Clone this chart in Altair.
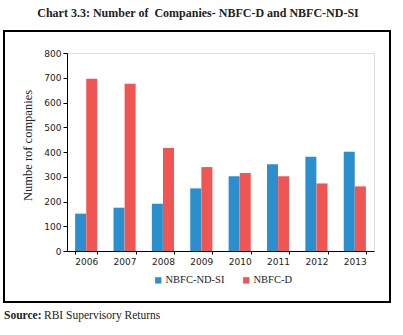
import altair as alt
import pandas as pd

years = ["2006", "2007", "2008", "2009", "2010", "2011", "2012", "2013"]
nd_si = [151, 175, 191, 253, 302, 351, 381, 401]
nbfc_d = [696, 676, 416, 339, 315, 302, 273, 261]
series = ["NBFC-ND-SI", "NBFC-D"]
colors = ["#2B8FCD", "#EF5552"]

rows = []
for y, a, b in zip(years, nd_si, nbfc_d):
    rows.append({"year": y, "series": series[0], "value": a})
    rows.append({"year": y, "series": series[1], "value": b})
df = pd.DataFrame(rows)

W, H = 307, 198

bars = alt.Chart(df).mark_bar(size=11).encode(
    x=alt.X("year:N", title=None, sort=years,
            scale=alt.Scale(paddingInner=0.42, paddingOuter=0.21),
            axis=alt.Axis(labelAngle=0, tickBand="extent", domainColor="black",
                          tickColor="black", tickSize=3, labelFont="DejaVu Sans",
                          labelFontSize=9, labelColor="#222", labelPadding=3)),
    xOffset=alt.XOffset("series:N", sort=series),
    y=alt.Y("value:Q", title="Numbe rof companies",
            scale=alt.Scale(domain=[0, 800]),
            axis=alt.Axis(values=list(range(0, 801, 100)), grid=False,
                          domainColor="black", tickColor="black", tickSize=4,
                          labelFont="DejaVu Sans", labelFontSize=9, labelColor="#222",
                          titleFont="Liberation Serif", titleFontSize=12.5, titleY=92,
                          titleFontWeight="normal", titleColor="#222", titlePadding=9)),
    color=alt.Color("series:N", sort=series,
                    scale=alt.Scale(domain=series, range=colors),
                    legend=alt.Legend(title=None, orient="none", direction="horizontal",
                                      legendX=86, legendY=222, symbolType="square",
                                      symbolSize=40, symbolStrokeWidth=0, labelOffset=2,
                                      labelFont="Liberation Serif", labelFontSize=10.5,
                                      labelColor="#222", columnPadding=16)),
)

frame = alt.Chart(pd.DataFrame({"a": [0]})).mark_rect(
    fill=None, stroke="black", strokeWidth=2
).encode(x=alt.value(-63), x2=alt.value(323), y=alt.value(-22), y2=alt.value(249))

title = alt.Chart(pd.DataFrame({"t": ["Chart 3.3: Number of\u00a0 Companies- NBFC-D and NBFC-ND-SI"]})).mark_text(
    font="Liberation Serif", fontSize=12, fontWeight="bold", color="#222", align="center", baseline="middle"
).encode(text="t:N", x=alt.value(131), y=alt.value(-40))

src_b = alt.Chart(pd.DataFrame({"t": ["Source:"]})).mark_text(
    font="Liberation Serif", fontSize=11.5, fontWeight="bold", color="#222", align="left", baseline="middle"
).encode(text="t:N", x=alt.value(-63), y=alt.value(263))
src = alt.Chart(pd.DataFrame({"t": ["RBI Supervisory Returns"]})).mark_text(
    font="Liberation Serif", fontSize=11.5, color="#222", align="left", baseline="middle"
).encode(text="t:N", x=alt.value(-23), y=alt.value(263))

chart = alt.layer(bars, frame, title, src_b, src).properties(
    width=W, height=H,
    autosize=alt.AutoSizeParams(type="none"),
    padding={"left": 67, "top": 53, "right": 29, "bottom": 84},
).configure_view(stroke=None).configure(background="white")

chart.save("out.html", embed_options={"renderer": "svg", "actions": False})
